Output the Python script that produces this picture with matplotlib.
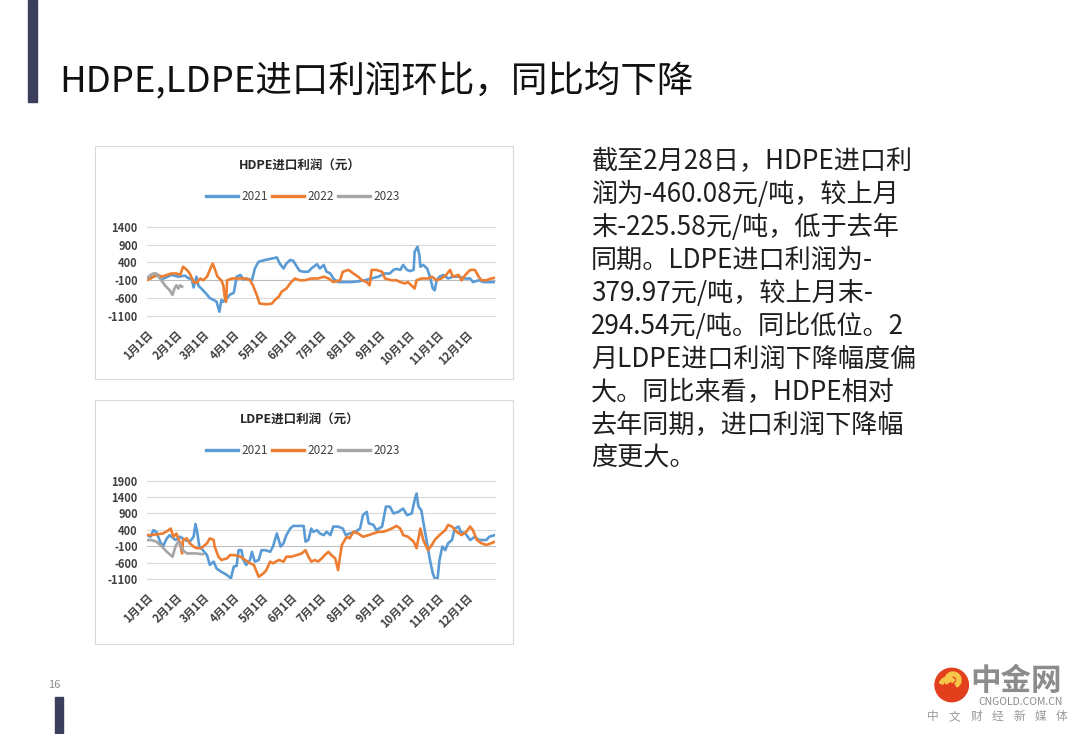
import matplotlib.pyplot as plt
from matplotlib.patches import Rectangle, Circle, Wedge

plt.rcParams['font.family'] = ['Noto Sans CJK SC', 'DejaVu Sans']

# ---- data (day of year, profit in yuan/ton) ----
hdpe_2021 = [(1, -80), (3, -50), (8, 0), (11, 50), (17, -70), (27, 50), (34, 0), (41, 30),
             (45, -50), (48, -50), (50, -300), (53, 0), (55, -250), (58, -330), (64, -500),
             (67, -600), (71, -650), (74, -700), (77, -980), (79, -650), (81, -700), (85, -600),
             (88, -500), (92, -450), (95, 0), (99, 50), (102, -80), (105, -50), (111, -100),
             (114, 230), (118, 420), (125, 470), (132, 510), (137, 540), (140, 370), (144, 230),
             (147, 370), (151, 470), (154, 450), (158, 280), (161, 160), (165, 140), (170, 140),
             (173, 230), (179, 350), (182, 230), (186, 330), (189, 140), (193, 90), (196, -50),
             (201, -150), (208, -150), (215, -150), (222, -130), (229, -100), (236, -50),
             (243, 0), (250, 90), (255, 90), (259, 190), (262, 220), (266, 190), (269, 330),
             (273, 190), (276, 160), (280, 190), (281, 700), (284, 840), (286, 600), (287, 280),
             (290, 330), (294, 230), (297, 0), (300, -330), (302, -380), (304, -100), (307, 0),
             (311, 50), (316, -50), (321, 0), (327, 0), (334, -50), (339, -50), (342, -150),
             (348, -100), (353, -150), (365, -150)]
hdpe_2022 = [(1, -100), (5, -50), (8, 0), (13, 50), (17, 0), (22, 50), (27, 90), (32, 90),
             (36, 50), (39, 280), (43, 190), (46, 90), (50, -150), (53, -170), (57, -50),
             (60, -100), (64, 0), (67, 190), (70, 370), (72, 230), (75, 0), (79, -100),
             (81, -240), (83, -650), (84, -700), (85, -100), (90, -50), (97, -50), (104, -50),
             (109, -100), (112, -240), (116, -510), (119, -750), (125, -770), (128, -770),
             (132, -750), (135, -650), (139, -560), (142, -420), (147, -330), (152, -150),
             (156, -50), (161, -100), (166, -100), (173, -50), (180, -50), (186, 0), (191, -50),
             (196, -150), (203, -100), (206, 140), (212, 190), (217, 90), (222, 0), (226, -100),
             (231, -150), (234, -240), (236, 190), (241, 190), (247, 140), (250, -50),
             (257, -100), (262, -100), (266, -150), (271, -190), (274, -150), (281, -330),
             (283, -100), (288, -50), (295, -50), (299, 0), (304, -100), (309, -50), (314, 50),
             (318, 190), (321, 0), (327, 50), (330, -100), (334, 50), (339, 190), (344, 190),
             (348, 0), (351, -100), (356, -100), (361, -50), (365, -30)]
hdpe_2023 = [(1, -50), (5, 50), (8, 90), (11, 90), (15, -50), (20, -240), (25, -380),
             (28, -510), (30, -330), (32, -240), (34, -330), (36, -240), (38, -280)]

ldpe_2021 = [(1, 240), (5, 190), (8, 390), (11, 340), (15, 40), (18, -110), (22, 140), (25, 240),
             (31, 90), (36, 190), (41, 90), (46, 40), (50, 190), (52, 580), (54, 290), (56, -110),
             (58, -160), (64, -370), (67, -670), (71, -570), (74, -780), (79, -880), (85, -980),
             (89, -1080), (92, -720), (95, -700), (97, -220), (100, -220), (102, -520),
             (105, -670), (109, -520), (111, -270), (114, -570), (118, -520), (121, -220),
             (125, -220), (130, -270), (133, -110), (137, 290), (139, 90), (141, -110),
             (144, -10), (147, 240), (151, 440), (154, 520), (159, 520), (165, 520), (167, 40),
             (170, 90), (173, 440), (175, 340), (179, 390), (182, 290), (186, 240), (189, 340),
             (193, 240), (196, 500), (201, 500), (206, 440), (209, 240), (213, 290), (219, 340),
             (224, 440), (227, 850), (231, 950), (233, 600), (238, 550), (241, 390), (247, 500),
             (251, 1110), (255, 1110), (259, 900), (264, 950), (269, 1050), (273, 850),
             (278, 900), (281, 1310), (283, 1510), (285, 1110), (288, 1000), (290, 650),
             (294, -10), (297, -520), (300, -930), (302, -1080), (305, -1080), (307, -520),
             (310, -110), (313, -220), (316, -10), (320, 90), (323, 440), (327, 500), (329, 340),
             (334, 290), (339, 90), (344, 190), (348, 90), (351, 90), (356, 90), (359, 190),
             (365, 240)]
ldpe_2022 = [(1, 240), (6, 240), (11, 260), (18, 290), (24, 390), (26, 440), (29, 190), (32, 290),
             (36, -10), (38, -320), (39, 90), (43, 140), (46, -10), (50, -110), (53, -160),
             (58, -160), (64, -10), (67, 140), (71, 90), (72, -110), (76, -420), (79, -520),
             (85, -470), (88, -370), (93, -370), (99, -420), (104, -520), (109, -620),
             (113, -670), (118, -1030), (123, -930), (126, -830), (130, -570), (133, -620),
             (139, -520), (144, -570), (147, -420), (152, -420), (158, -370), (163, -320),
             (167, -220), (170, -420), (173, -570), (177, -520), (180, -570), (184, -470),
             (187, -370), (191, -270), (194, -370), (198, -470), (201, -830), (203, -420),
             (205, -60), (210, 190), (213, 140), (217, 340), (222, 290), (227, 190), (233, 240),
             (238, 290), (243, 340), (248, 340), (253, 390), (257, 440), (262, 520), (266, 440),
             (269, 240), (274, 190), (280, 40), (283, -160), (287, 440), (290, 90), (295, -220),
             (299, -60), (302, 90), (307, 240), (313, 390), (316, 550), (320, 500), (325, 340),
             (330, 240), (335, 340), (339, 500), (342, 390), (346, 90), (351, -10), (356, -60),
             (361, -10), (365, 40)]
ldpe_2023 = [(1, 90), (6, 90), (11, 40), (17, -110), (22, -270), (28, -420), (31, -110),
             (34, 40), (37, -110), (39, -220), (43, -320), (48, -320), (53, -320), (58, -340),
             (60, -340)]

hdpe_yticks = [-1100, -600, -100, 400, 900, 1400]
ldpe_yticks = [-1100, -600, -100, 400, 900, 1400, 1900]
month_days = [1, 32, 60, 91, 121, 152, 182, 213, 244, 274, 305, 335]
month_labels = ['%d月1日' % m for m in range(1, 13)]

page_title = 'HDPE,LDPE进口利润环比，同比均下降'
body_lines = ['截至2月28日，HDPE进口利',
              '润为-460.08元/吨，较上月',
              '末-225.58元/吨，低于去年',
              '同期。LDPE进口利润为-',
              '379.97元/吨，较上月末-',
              '294.54元/吨。同比低位。2',
              '月LDPE进口利润下降幅度偏',
              '大。同比来看，HDPE相对',
              '去年同期，进口利润下降幅',
              '度更大。']

BLUE, ORANGE, GRAY = '#5B9BD5', '#ED7D31', '#A5A5A5'
W, H = 1080, 734
fig = plt.figure(figsize=(W / 100, H / 100), dpi=100)


def box(l, t, r, b):
    return [l / W, 1 - b / H, (r - l) / W, (b - t) / H]


def draw_chart(panel, plot, title, series, yticks, title_y, legend_y):
    l, t, r, b = panel
    fig.patches.append(Rectangle((l / W, 1 - b / H), (r - l) / W, (b - t) / H,
                                 transform=fig.transFigure, fill=False,
                                 ec='#D9D9D9', lw=0.8))
    ax = fig.add_axes(box(*plot))
    ax.set_facecolor('none')
    for yt in yticks:
        ax.axhline(yt, color='#BFBFBF' if yt == -100 else '#D9D9D9', lw=0.8,
                   clip_on=False, zorder=1)
    for name, pts, color in series:
        d, v = zip(*pts)
        ax.plot(d, v, color=color, lw=1.9, label=name, zorder=3,
                solid_joinstyle='round')
    ax.set_xlim(1, 365)
    ax.set_ylim(yticks[0], yticks[-1])
    ax.set_yticks(yticks)
    ax.set_yticklabels([str(v) for v in yticks])
    ax.set_xticks(month_days)
    ax.set_xticklabels(month_labels, rotation=45, ha='right', va='top',
                       rotation_mode='anchor')
    ax.tick_params(length=0, labelsize=8, labelcolor='#404040')
    ax.tick_params(axis='y', pad=6.5)
    ax.tick_params(axis='x', pad=9)
    for lab in ax.get_xticklabels() + ax.get_yticklabels():
        lab.set_fontweight('bold')
    for s in ax.spines.values():
        s.set_visible(False)
    fig.text(300 / W, 1 - title_y / H, title, ha='center', va='center',
             fontsize=9, fontweight='bold', color='#262626')
    leg = ax.legend(loc='center', bbox_to_anchor=(303 / W, 1 - legend_y / H),
                    bbox_transform=fig.transFigure, ncol=3, frameon=False,
                    fontsize=8.5, handlelength=2.7, handletextpad=0.25,
                    columnspacing=0.4, labelcolor='#404040')
    for line in leg.get_lines():
        line.set_linewidth(2.4)
    return ax


draw_chart((95, 146, 513, 379), (146.7, 226.7, 495, 316), 'HDPE进口利润（元）',
           [('2021', hdpe_2021, BLUE), ('2022', hdpe_2022, ORANGE), ('2023', hdpe_2023, GRAY)],
           hdpe_yticks, 166, 197)
draw_chart((95, 400, 513, 644), (146.7, 480.7, 495, 579), 'LDPE进口利润（元）',
           [('2021', ldpe_2021, BLUE), ('2022', ldpe_2022, ORANGE), ('2023', ldpe_2023, GRAY)],
           ldpe_yticks, 420, 451)

# slide decoration
fig.patches.append(Rectangle((28.3 / W, 1 - 101.7 / H), 8.4 / W, 101.7 / H,
                             transform=fig.transFigure, color='#3B3F5C'))
fig.patches.append(Rectangle((55 / W, 0), 7.7 / W, 37 / H,
                             transform=fig.transFigure, color='#3B3F5C'))
fig.text(59 / W, 1 - 92.5 / H, page_title, fontsize=26.3, va='baseline', color='#111111')
fig.text(54 / W, 1 - 685 / H, '16', ha='center', va='center', fontsize=8, color='#8C8C8C')

for i, line in enumerate(body_lines):
    fig.text(591 / W, 1 - (169 + i * 33) / H, line, fontsize=18.8, va='baseline',
             color='#1F1F1F')

# logo, bottom right
logo = fig.add_axes(box(880, 640, 1080, 734))
logo.set_xlim(880, 1080)
logo.set_ylim(734, 640)
logo.set_aspect('equal')
logo.axis('off')
logo.add_patch(Circle((951.7, 685), 16.7, color='#E2401C'))
logo.add_patch(Wedge((953, 680), 8, 150, 60, width=4, color='#F7C74A'))
logo.add_patch(Wedge((948, 686), 9, 200, 320, width=3.5, color='#F7C74A'))
logo.text(1016, 681, '中金网', ha='center', va='center', fontsize=22,
          fontweight='bold', color='#8C8C8C')
logo.text(1021, 702, 'CNGOLD.COM.CN', ha='center', va='center', fontsize=7.5,
          color='#8C8C8C')
for k, ch in enumerate('中文财经新媒体'):
    logo.text(933 + k * 21.5, 716.5, ch, ha='center', va='center', fontsize=8.5,
              color='#999999')

fig.savefig('out.png', dpi=100)
